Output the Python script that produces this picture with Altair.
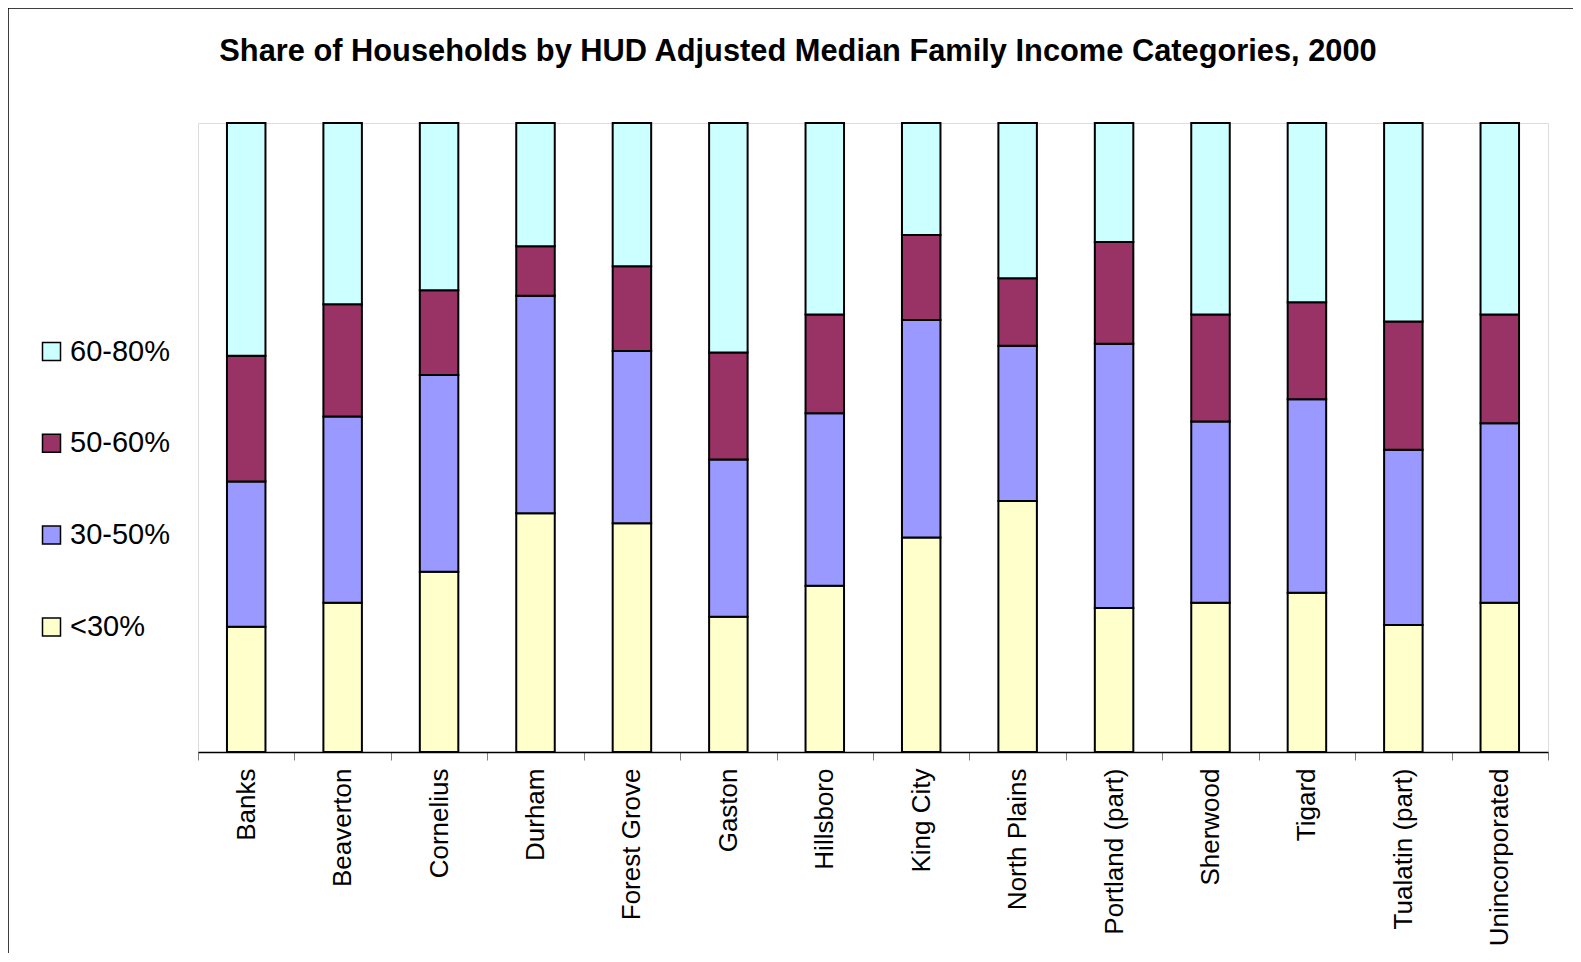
import altair as alt
import pandas as pd

cities = ["Banks", "Beaverton", "Cornelius", "Durham", "Forest Grove", "Gaston",
          "Hillsboro", "King City", "North Plains", "Portland  (part)", "Sherwood",
          "Tigard", "Tualatin  (part)", "Unincorporated"]
categories = ["60-80%", "50-60%", "30-50%", "<30%"]
colors = ["#CCFFFF", "#993366", "#9999FF", "#FFFFCC"]

lt30 = [19.9, 23.7, 28.7, 38.0, 36.4, 21.5, 26.4, 34.1, 39.9, 22.9, 23.7, 25.3, 20.2, 23.7]
s30_50 = [23.1, 29.6, 31.3, 34.6, 27.4, 25.0, 27.4, 34.6, 24.7, 42.0, 28.8, 30.8, 27.9, 28.5]
s50_60 = [20.0, 17.8, 13.5, 7.9, 13.5, 17.0, 15.7, 13.5, 10.7, 16.2, 17.0, 15.4, 20.4, 17.3]
s60_80 = [37.0, 28.8, 26.6, 19.6, 22.8, 36.5, 30.4, 17.8, 24.7, 18.9, 30.4, 28.5, 31.6, 30.4]

series = {"<30%": lt30, "30-50%": s30_50, "50-60%": s50_60, "60-80%": s60_80}
stack_rank = {"<30%": 0, "30-50%": 1, "50-60%": 2, "60-80%": 3}

rows = []
for cat, vals in series.items():
    for city, v in zip(cities, vals):
        rows.append({"city": city, "category": cat, "value": v, "rank": stack_rank[cat]})
df = pd.DataFrame(rows)

W, H = 1350, 629

bars = alt.Chart(df).mark_bar(stroke="black", strokeWidth=2, size=38.5).encode(
    x=alt.X("city:N", sort=cities, title=None,
            scale=alt.Scale(paddingInner=0, paddingOuter=0),
            axis=alt.Axis(labelAngle=-90, labelFontSize=26, labelFont="Liberation Sans",
                          labelColor="black", tickBand="extent", tickSize=8,
                          tickColor="#808080", domainColor="black", domainWidth=1.5,
                          labelPadding=8)),
    y=alt.Y("value:Q", stack="normalize", axis=None),
    color=alt.Color("category:N",
                    scale=alt.Scale(domain=categories, range=colors),
                    legend=alt.Legend(title=None, orient="none", legendX=-161, legendY=214,
                                      symbolType="square", symbolSize=324,
                                      symbolStrokeColor="black", symbolStrokeWidth=1.5,
                                      labelFontSize=29, labelFont="Liberation Sans",
                                      labelColor="black", labelOffset=4, rowPadding=61.8,
                                      padding=0)),
    order=alt.Order("rank:Q", sort="ascending"),
)

frame = alt.Chart(pd.DataFrame({"a": [0]})).mark_rect(
    fillOpacity=0, stroke="black", strokeWidth=1.5
).encode(
    x=alt.value(-190), y=alt.value(-115), x2=alt.value(1500), y2=alt.value(1000)
)

chart = alt.layer(frame, bars).properties(
    width=W, height=H,
    title=alt.TitleParams(
        "Share of Households by HUD Adjusted Median Family Income Categories, 2000",
        fontSize=30.8, font="Liberation Sans", fontWeight="bold", anchor="middle",
        dx=-75, offset=-61, color="black"),
    autosize=alt.AutoSizeParams(type="none"),
    padding={"left": 190, "top": 115, "right": 25, "bottom": 201},
).configure_view(stroke="#808080", strokeWidth=2).configure(background="white")

chart.save("out.html", embed_options={"renderer": "svg", "actions": False})
